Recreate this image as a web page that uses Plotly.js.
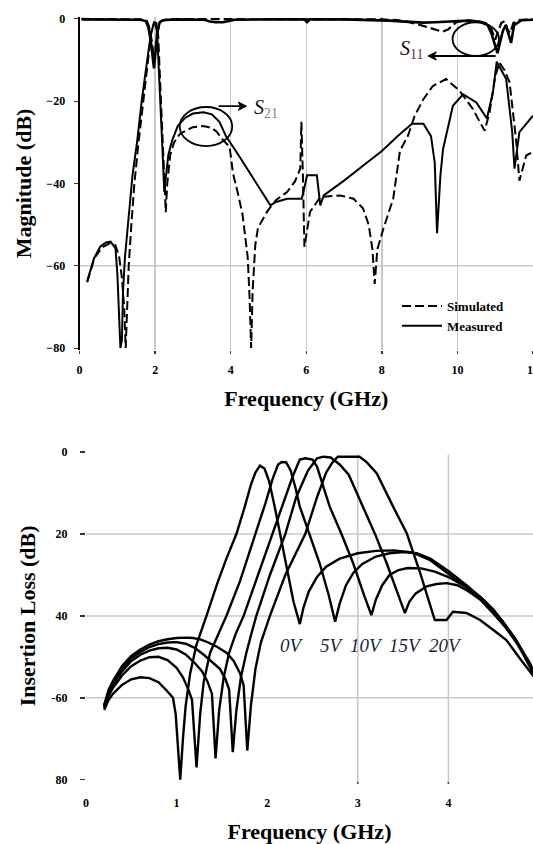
<!DOCTYPE html>
<html>
<head>
<meta charset="utf-8">
<script src="https://cdn.plot.ly/plotly-3.0.1.min.js"></script>
<style>
html,body{margin:0;padding:0;background:#fff;overflow:hidden;width:533px;height:844px;}
#chart{width:541px;height:844px;}
</style>
</head>
<body>
<div id="chart"></div>
<script>
// ---------- Top chart: S-parameters (GHz, dB) ----------
const s21SimF = [0.2,0.4,0.6,0.8,0.95,1.05,1.12,1.18,1.22,1.26,1.3,1.37,1.45,1.56,1.68,1.8,1.9,1.97,2.03,2.08,2.15,2.2,2.25,2.28,2.32,2.4,2.5,2.65,2.84,3.0,3.28,3.5,3.64,3.75,3.97,4.06,4.18,4.31,4.45,4.5,4.54,4.58,4.65,4.72,4.98,5.2,5.49,5.7,5.84,5.87,5.91,5.95,6.1,6.37,6.9,7.25,7.5,7.65,7.75,7.81,7.88,8.04,8.3,8.48,8.69,8.87,9.1,9.35,9.7,10.06,10.41,10.72,10.85,11.0,11.11,11.25,11.38,11.55,11.64,11.82,12.0];
const s21SimDb = [-64,-58,-55.5,-54.5,-55,-58,-63,-70,-80,-70,-60,-50,-40,-30,-20,-10,-3,-0.8,-1,-4,-17,-30,-40,-47,-40,-33,-30,-28,-27,-26.3,-26,-26.5,-27.5,-29,-31.1,-37.5,-42,-47.4,-58,-68,-80,-66,-55,-50.8,-46.6,-44,-42.1,-39.5,-36.4,-25,-38,-55.4,-46.9,-43.3,-42.9,-43.7,-46,-50,-56,-64.4,-56,-51,-43.7,-32,-28.4,-23.5,-19.5,-16.3,-14.6,-17.5,-21.9,-27.2,-22.7,-14,-10.6,-12.5,-15.4,-29.2,-39.3,-33.2,-32.3];

const s21MeasF = [0.2,0.3,0.38,0.55,0.7,0.82,0.95,1.0,1.05,1.08,1.12,1.15,1.2,1.3,1.4,1.52,1.65,1.79,1.88,1.95,2.0,2.05,2.14,2.2,2.24,2.28,2.35,2.45,2.6,2.8,3.0,3.28,3.5,3.7,3.88,4.2,4.5,4.8,5.05,5.2,5.49,5.88,5.95,6.02,6.28,6.33,6.37,6.46,7.0,7.5,8.0,8.45,8.8,9.1,9.3,9.4,9.46,9.55,9.62,9.88,10.15,10.5,10.78,10.94,11.04,11.29,11.45,11.51,11.64,12.0];
const s21MeasDb = [-63.8,-60.5,-58.2,-55.3,-54.3,-54.1,-55.8,-62,-72,-80,-78,-66,-58,-47,-38,-30,-19.5,-10,-4,-1.5,-1.2,-3,-19.5,-33,-42,-38,-33,-29.5,-26,-24,-23,-22.7,-23.2,-25,-28.6,-33,-37.5,-41.7,-45.3,-44.5,-43.7,-43.7,-41,-38,-38,-42,-45.3,-42.9,-39.3,-35.7,-32.1,-28.2,-25.5,-25.5,-28.5,-35,-52.1,-38,-31.6,-21.1,-18.3,-20.3,-24.2,-17.8,-10.4,-14.6,-27.5,-36.4,-27.5,-23.5];

const s11SimF = [0.05,1.0,1.6,1.78,1.86,1.92,1.97,2.02,2.08,2.14,2.25,2.6,3.5,5.0,7.0,8.0,8.4,8.7,8.95,9.2,9.45,9.6,9.75,9.88,9.98,10.2,10.5,10.75,10.9,11.0,11.08,11.16,11.25,11.32,11.4,11.48,11.6,12.0];
const s11SimDb = [0,0,-0.1,-0.5,-2.5,-6,-10,-6.5,-2.5,-0.7,-0.2,-0.05,-0.05,-0.05,-0.05,-0.1,-0.3,-0.7,-1.3,-2,-2.8,-3.1,-2.6,-1.5,-0.7,-0.4,-0.5,-1,-2.5,-5,-3,-1,-0.5,-2.5,-3.4,-1,-0.3,-0.1];

const s11MeasF = [0.05,1.0,1.6,1.75,1.82,1.88,1.93,1.97,2.01,2.06,2.12,2.2,2.5,3.3,3.45,3.6,3.8,3.95,4.1,5.0,5.95,6.02,6.1,7.0,7.8,8.2,8.5,8.8,9.1,9.4,9.7,10.0,10.3,10.6,10.8,10.9,11.0,11.06,11.12,11.2,11.28,11.35,11.42,11.5,11.7,12.0];
const s11MeasDb = [-0.1,-0.1,-0.2,-0.5,-2,-5,-9,-12,-8,-3,-0.8,-0.3,-0.1,-0.2,-0.6,-0.8,-0.8,-0.5,-0.2,-0.1,-0.1,-0.8,-0.1,-0.1,-0.2,-0.4,-0.6,-0.8,-0.9,-0.8,-0.7,-0.5,-0.4,-0.7,-1.5,-3.5,-6.5,-8.3,-6,-3,-1.5,-4,-5.8,-1.5,-0.3,-0.2];

const topXTicks = [0,2,4,6,8,10,12];
const topYTicks = [-80,-60,-40,-20,0];

// ---------- Bottom chart: insertion loss vs bias (GHz, dB) ----------
const v0F  = [0.2,0.25,0.3,0.4,0.5,0.6,0.7,0.8,0.88,0.96,0.99,1.01,1.04,1.07,1.1,1.15,1.22,1.33,1.45,1.55,1.66,1.75,1.82,1.87,1.92,1.97,2.02,2.08,2.14,2.21,2.29,2.36,2.4,2.46,2.55,2.65,2.8,3.0,3.2,3.4,3.6,3.8,4.0,4.2,4.4,4.6,4.75,4.9,4.95];
const v0L  = [63,60.5,59,56.8,55.5,55,55.2,56.2,58,60,64,70,80,70,62,54,47,40,32,26,20,13.5,8,5,3.3,4,7,13,20,28,36.5,42,38,34,30.5,28,26,24.7,24.1,24,24.5,26.4,29.6,33,36.8,41.8,46.5,52,54];
const v5F  = [0.2,0.25,0.3,0.4,0.5,0.6,0.7,0.8,0.9,1.0,1.07,1.13,1.17,1.22,1.26,1.3,1.37,1.45,1.55,1.7,1.87,1.98,2.06,2.12,2.16,2.21,2.26,2.31,2.36,2.47,2.58,2.68,2.75,2.8,2.87,2.95,3.05,3.2,3.35,3.5,3.65,3.8,4.0,4.2,4.4,4.6,4.75,4.9,4.95];
const v5L  = [62.5,59.5,57.5,54.5,52.3,50.9,50.1,50,50.8,52.7,55,58,60.5,77,64,56,49,45,40,31.5,20,12.5,6.5,3,2.4,2.5,4.5,8.5,13.3,20,27.2,35,41.4,37,32.5,29.5,27.3,25.5,24.7,24.4,24.7,26,29,32.5,36.3,41.3,46,52.5,54.5];
const v10F = [0.2,0.25,0.3,0.4,0.5,0.6,0.7,0.8,0.9,1.0,1.1,1.2,1.28,1.34,1.39,1.43,1.47,1.52,1.58,1.65,1.74,1.9,2.06,2.18,2.28,2.36,2.42,2.5,2.55,2.62,2.69,2.82,2.95,3.07,3.15,3.2,3.27,3.35,3.45,3.55,3.7,3.85,4.0,4.2,4.35,4.5,4.72,4.9,4.95];
const v10L = [62.3,59,56.8,53.5,51,49.5,48.5,47.9,47.8,48.2,49.4,51.5,53.5,56,59,74.8,63,55,49,44.5,40,30,20,12,6,1.8,1.5,1.8,3.5,8.5,13.3,20,27.2,35,39.8,36,32.5,30,28.8,28.3,28.4,29.2,30.5,33,35.3,38.5,45,51.5,54];
const v15F = [0.2,0.25,0.3,0.4,0.5,0.6,0.7,0.8,0.9,1.0,1.1,1.2,1.3,1.4,1.48,1.54,1.58,1.62,1.66,1.71,1.77,1.83,1.88,2.03,2.2,2.32,2.45,2.55,2.62,2.7,2.8,2.9,3.06,3.2,3.32,3.43,3.52,3.57,3.64,3.76,3.87,3.98,4.1,4.2,4.35,4.49,4.64,4.79,4.95];
const v15L = [62,58.5,56.3,52.8,50.3,48.8,47.6,46.9,46.5,46.4,46.8,47.8,49.5,51.5,53,55.5,58,73.3,63,55,49,44,40,30,20,11,4.5,1.5,1.1,1.3,3,5.5,13.3,20.5,27.2,34,39.3,36.5,34.5,32.8,32.2,32,32.5,33.7,36,39.3,43,47.5,54.5];
const v20F = [0.2,0.25,0.3,0.4,0.5,0.6,0.7,0.8,0.9,1.0,1.1,1.18,1.27,1.35,1.45,1.55,1.63,1.7,1.74,1.78,1.82,1.87,1.93,2.03,2.2,2.42,2.55,2.65,2.72,2.78,2.9,3.02,3.1,3.21,3.39,3.54,3.69,3.8,3.85,3.98,4.05,4.2,4.35,4.5,4.64,4.8,4.95];
const v20L = [61.8,58,55.8,52.2,49.8,48.2,47,46.2,45.7,45.4,45.3,45.4,45.8,46.5,47.6,49,51,54,57,72.9,62,53,46.5,40,30,20,11,5,2.5,1.1,1.1,1.1,2.5,5.2,13.3,19.8,29.6,37.7,41,41,39,39.3,41,43.5,45.9,50.7,55];

const voltLabels = ['0V','5V','10V','15V','20V'];
const voltLabelF = [2.27,2.72,3.1,3.53,3.97];
const voltLabelL = 47.3;

const botXTicks = [0,1,2,3,4];
const botYTicks = [0,20,40,60,80];
const botYText  = ['0','20','40','-60','80'];

// ---------- Build figure ----------
const SERIF = "Liberation Serif, 'Times New Roman', 'DejaVu Serif', serif";
const W = 541, H = 844;   // figure is slightly wider than the window so the "12" label is cut like the reference
const px = v => v / W;
const py = v => 1 - v / H;

const dashPat = '9px,4px';
const traces = [];
function topTrace(f, d, dash, name, show, w) {
  traces.push({x: f, y: d, type: 'scatter', mode: 'lines', xaxis: 'x', yaxis: 'y',
    name: name, showlegend: show, hoverinfo: 'skip',
    line: {color: '#000', width: w, dash: dash}});
}
topTrace(s11SimF, s11SimDb, dashPat, 'S11 simulated', false, 2.2);
topTrace(s11MeasF, s11MeasDb, 'solid', 'S11 measured', false, 2.6);
topTrace(s21SimF, s21SimDb, dashPat, 'Simulated', true, 2);
topTrace(s21MeasF, s21MeasDb, 'solid', 'Measured', true, 2);

[[v0F,v0L],[v5F,v5L],[v10F,v10L],[v15F,v15L],[v20F,v20L]].forEach((s, i) => {
  traces.push({x: s[0], y: s[1], type: 'scatter', mode: 'lines', xaxis: 'x2', yaxis: 'y2',
    name: voltLabels[i], showlegend: false, hoverinfo: 'skip',
    line: {color: '#000', width: 2.4}});
});

const grid = '#c8c8c8';
const shapes = [
  {type:'line', xref:'x', yref:'y', x0:0, x1:12, y0:-60, y1:-60, line:{color:grid, width:1.5}, layer:'below'},
  {type:'circle', xref:'x', yref:'y', x0:2.65, x1:4.04, y0:-21.4, y1:-30.9, line:{color:'#000', width:1.8}},
  {type:'circle', xref:'x', yref:'y', x0:9.87, x1:11.1, y0:-0.8, y1:-9.0, line:{color:'#000', width:1.8}},
  // S21 arrow (pointing right)
  {type:'line', xref:'x', yref:'y', x0:3.678, x1:4.30, y0:-21.2, y1:-21.2, line:{color:'#000', width:1.8}},
  {type:'path', xref:'x', yref:'y', path:'M4.417,-21.2 L4.20,-20.2 L4.26,-21.2 L4.20,-22.2 Z', fillcolor:'#000', line:{color:'#000', width:1}},
  // S11 arrow (pointing left)
  {type:'line', xref:'x', yref:'y', x0:9.34, x1:11.01, y0:-9.0, y1:-9.0, line:{color:'#000', width:1.8}},
  {type:'path', xref:'x', yref:'y', path:'M9.22,-9.0 L9.44,-8.0 L9.38,-9.0 L9.44,-10.0 Z', fillcolor:'#000', line:{color:'#000', width:1}}
];
[20,40,60].forEach(v => shapes.push({type:'line', xref:'x2', yref:'y2', x0:0, x1:4.934, y0:v, y1:v, line:{color:grid, width:1.5}, layer:'below'}));
[3,4].forEach(v => {
  shapes.push({type:'line', xref:'x2', yref:'y2', x0:v, x1:v, y0:0.5, y1:81.5, line:{color:grid, width:1.5}, layer:'below'});
  shapes.push({type:'line', xref:'x2', yref:'y2', x0:v, x1:v, y0:80.6, y1:82, line:{color:'#333', width:1.5}, layer:'below'});
});

const annotations = [
  {xref:'x', yref:'y', x:4.55, y:-21.8, xanchor:'left', yanchor:'middle', showarrow:false,
    text:'<i>S</i><sub><span style="color:#8c8464">21</span></sub>', font:{family:SERIF, size:20, color:'#111'}},
  {xref:'x', yref:'y', x:8.42, y:-7.4, xanchor:'left', yanchor:'middle', showarrow:false,
    text:'<i>S</i><sub><span style="color:#6b1d45">11</span></sub>', font:{family:SERIF, size:20, color:'#111'}}
];
voltLabels.forEach((t, i) => annotations.push({xref:'x2', yref:'y2', x:voltLabelF[i], y:voltLabelL,
  xanchor:'center', yanchor:'middle', showarrow:false, text:'<i>' + t + '</i>',
  font:{family:SERIF, size:19, color:'#1c2440'}}));

const tickFont = {family:SERIF, size:12, color:'#000', weight:'bold'};
const titleFont = {family:SERIF, size:22, color:'#000', weight:'bold'};

const layout = {
  width: W, height: H,
  margin: {l:0, r:0, t:0, b:0, pad:0},
  paper_bgcolor:'#fff', plot_bgcolor:'rgba(0,0,0,0)',
  showlegend: true,
  legend: {x: px(397), y: py(291), xanchor:'left', yanchor:'top', bgcolor:'rgba(0,0,0,0)',
    font:{family:SERIF, size:13, color:'#000', weight:'bold'}, itemwidth:40, tracegroupgap:0},
  xaxis: {domain:[px(79.6), px(533)], range:[0,12], anchor:'y', tickmode:'array', tickvals: topXTicks,
    showgrid:true, gridcolor:grid, gridwidth:1.5, zeroline:false, showline:false,
    ticks:'outside', ticklen:3, tickcolor:'#333', tickwidth:1.5, tickfont:tickFont, ticklabelstandoff:5,
    title:{text:'Frequency (GHz)', font:titleFont, standoff:15}},
  yaxis: {domain:[py(350.1), py(16.9)], range:[-80.5,0.5], anchor:'x', tickmode:'array', tickvals: topYTicks,
    showgrid:false, zeroline:false, showline:true, linecolor:'#000', linewidth:2,
    ticks:'outside', ticklen:4, tickcolor:'#333', tickfont:tickFont, ticklabelstandoff:6,
    title:{text:'Magnitude (dB)', font:titleFont, standoff:9}},
  xaxis2: {domain:[px(86), px(533)], range:[0,4.934], anchor:'y2', tickmode:'array', tickvals: botXTicks,
    showgrid:false, zeroline:false, showline:false, ticks:'', tickfont:tickFont, ticklabelstandoff:10,
    title:{text:'Frequency (GHz)', font:titleFont, standoff:17}},
  yaxis2: {domain:[py(783.7), py(448.1)], range:[81,-1], anchor:'x2', tickmode:'array', tickvals: botYTicks, ticktext: botYText,
    showgrid:false, zeroline:false, showline:false, ticks:'outside', ticklen:5, tickcolor:'#333', tickwidth:1.5,
    tickfont:tickFont, ticklabelstandoff:10,
    title:{text:'Insertion Loss (dB)', font:titleFont, standoff:9}},
  shapes: shapes,
  annotations: annotations
};

Plotly.newPlot('chart', traces, layout, {staticPlot:true, displayModeBar:false});
</script>
</body>
</html>
